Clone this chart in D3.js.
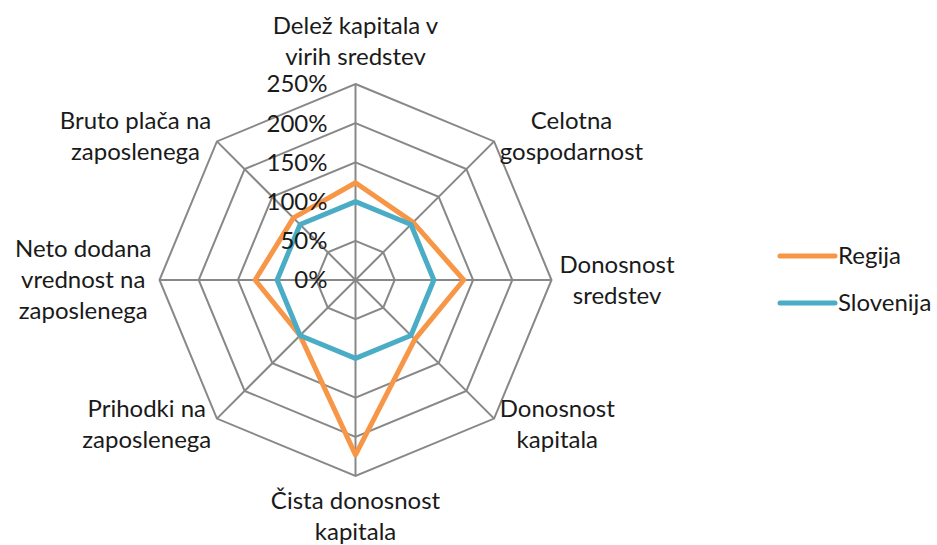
<!DOCTYPE html>
<html><head><meta charset="utf-8">
<script src="https://cdn.jsdelivr.net/npm/d3@7"></script>
<style>body{margin:0;background:#fff}</style>
</head><body><svg id="c" width="937" height="545"></svg>
<script>
const categories = [
  ["Delež kapitala v","virih sredstev"],
  ["Celotna","gospodarnost"],
  ["Donosnost","sredstev"],
  ["Donosnost","kapitala"],
  ["Čista donosnost","kapitala"],
  ["Prihodki na","zaposlenega"],
  ["Neto dodana","vrednost na","zaposlenega"],
  ["Bruto plača na","zaposlenega"]
];
const regija = [124,104,138,107,223,100,128,112];
const slovenija = [100,100,100,100,100,100,100,100];
const tickValues = [0,50,100,150,200,250];
const seriesNames = ["Regija","Slovenija"];
const seriesColors = ["#F79646","#4BACC6"];

const svg = d3.select("#c");
const cx = 355.5, cy = 280, R = 196;
const FONT = "Lato, 'Open Sans', sans-serif", FS = 24, LH = 31;
const r = d3.scaleLinear().domain([0,250]).range([0,R]);
const n = categories.length;
const ang = d3.scaleLinear().domain([0,n]).range([0,2*Math.PI]);
const g = svg.append("g").attr("transform",`translate(${cx},${cy})`);
const pt = (i,v)=>[Math.sin(ang(i))*r(v), -Math.cos(ang(i))*r(v)];

// rings
const ring = d3.lineRadial().angle((d,i)=>ang(i)).radius(d=>r(d)).curve(d3.curveLinearClosed);
tickValues.filter(t=>t>0).forEach(t=>{
  g.append("path").attr("d",ring(d3.range(n).map(()=>t)))
   .attr("fill","none").attr("stroke","#888").attr("stroke-width",2);
});
// spokes
d3.range(n).forEach(i=>{
  const p = pt(i,250);
  g.append("line").attr("x1",0).attr("y1",0).attr("x2",p[0]).attr("y2",p[1])
   .attr("stroke","#888").attr("stroke-width",2);
});
// series
[regija,slovenija].forEach((s,k)=>{
  g.append("path").attr("d",ring(s)).attr("fill","none")
   .attr("stroke",seriesColors[k]).attr("stroke-width",5).attr("stroke-linejoin","round");
});
// category labels
categories.forEach((lines,i)=>{
  const a = ang(i);
  const sx = Math.sin(a), sy = -Math.cos(a);
  const ax = sx*(R+8), ay = sy*(R+8);
  const t = g.append("text").attr("font-family",FONT).attr("font-size",FS).attr("fill","#1a1a1a")
    .attr("text-anchor","middle");
  lines.forEach((l,j)=>t.append("tspan").attr("x",0).attr("dy",j?LH:0).text(l));
  const w = d3.max(t.selectAll("tspan").nodes(), nd=>nd.getComputedTextLength());
  let bx = ax, by;
  if (Math.abs(sx) > 0.1) {
    bx = ax + (sx>0 ? w/2 : -w/2);
    by = ay - (lines.length-1)*LH/2 + FS*0.35;
  } else if (sy < 0) {
    by = ay - 11 - (lines.length-1)*LH;
  } else {
    by = ay + 25;
  }
  t.attr("transform",`translate(${bx},${by})`);
});
// tick labels
tickValues.forEach(t=>{
  g.append("text").attr("x",-28).attr("y",-r(t)).attr("dy","0.35em")
   .attr("text-anchor","end").attr("font-family",FONT).attr("font-size",FS).attr("fill","#1a1a1a")
   .text(t+"%");
});
// legend
const lg = svg.append("g").attr("transform","translate(780,256)");
seriesNames.forEach((nm,k)=>{
  const y = k*47;
  lg.append("line").attr("x1",0).attr("x2",55).attr("y1",y).attr("y2",y)
    .attr("stroke",seriesColors[k]).attr("stroke-width",5).attr("stroke-linecap","round");
  lg.append("text").attr("x",58).attr("y",y).attr("dy","0.35em").attr("font-family",FONT)
    .attr("font-size",FS).attr("fill","#1a1a1a").text(nm);
});
</script></body></html>
